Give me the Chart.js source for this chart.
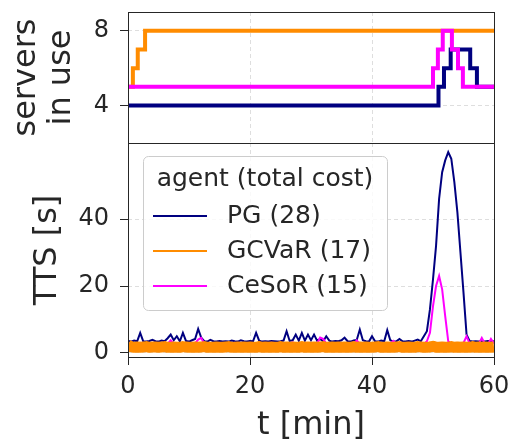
<!DOCTYPE html>
<html>
<head>
<meta charset="utf-8">
<script src="https://cdn.jsdelivr.net/npm/chart.js@4.4.1/dist/chart.umd.min.js"></script>
<style>
body { margin: 0; background: #fff; }
#wrap { position: relative; width: 513px; height: 442px; }
canvas { position: absolute; left: 0; }
#top { top: 0; }
#bottom { top: 133px; }
</style>
</head>
<body>
<div id="wrap">
<canvas id="top" width="513" height="150"></canvas>
<canvas id="bottom" width="513" height="309"></canvas>
</div>
<script>
var legendTitle = 'agent (total cost)';
var agents = ['PG (28)', 'GCVaR (17)', 'CeSoR (15)'];
var colors = ['#000080', '#ff8c00', '#ff00ff'];

// servers in use: time of each change [min] and the count from then on
var pgStepT = [0, 50.9, 51.8, 52.9, 56.1, 57.2, 60];
var pgStepN = [4, 5, 6, 7, 6, 5, 5];
var gcvarStepT = [0, 0.8, 1.6, 2.8, 60];
var gcvarStepN = [5, 6, 7, 8, 8];
var cesorStepT = [0, 50, 50.8, 51.6, 53.1, 54.1, 54.9, 60];
var cesorStepN = [5, 6, 7, 8, 7, 6, 5, 5];

// TTS [s], one value every half minute
var tMin = [
  0, 0.5, 1, 1.5, 2, 2.5, 3, 3.5, 4, 4.5,
  5, 5.5, 6, 6.5, 7, 7.5, 8, 8.5, 9, 9.5,
  10, 10.5, 11, 11.5, 12, 12.5, 13, 13.5, 14, 14.5,
  15, 15.5, 16, 16.5, 17, 17.5, 18, 18.5, 19, 19.5,
  20, 20.5, 21, 21.5, 22, 22.5, 23, 23.5, 24, 24.5,
  25, 25.5, 26, 26.5, 27, 27.5, 28, 28.5, 29, 29.5,
  30, 30.5, 31, 31.5, 32, 32.5, 33, 33.5, 34, 34.5,
  35, 35.5, 36, 36.5, 37, 37.5, 38, 38.5, 39, 39.5,
  40, 40.5, 41, 41.5, 42, 42.5, 43, 43.5, 44, 44.5,
  45, 45.5, 46, 46.5, 47, 47.5, 48, 48.5, 49, 49.5,
  50, 50.5, 51, 51.5, 52, 52.5, 53, 53.5, 54, 54.5,
  55, 55.5, 56, 56.5, 57, 57.5, 58, 58.5, 59, 59.5,
  60
];
var pgTTS = [
  3.6, 3.4, 3.7, 3.5, 6.0, 3.5, 3.4, 3.6, 3.9, 3.5,
  3.4, 3.7, 3.5, 4.4, 5.5, 3.8, 5.0, 3.5, 6.0, 3.6,
  3.4, 3.8, 4.2, 7.2, 4.6, 3.5, 3.4, 3.9, 3.5, 3.4,
  3.6, 3.4, 3.5, 3.4, 3.7, 3.5, 3.4, 3.8, 3.5, 3.4,
  3.6, 3.5, 6.0, 3.7, 3.4, 3.5, 3.4, 3.6, 3.5, 3.4,
  3.5, 3.7, 6.5, 3.6, 3.8, 5.5, 3.7, 6.0, 3.7, 5.5,
  3.8, 5.5, 3.7, 4.2, 3.5, 5.0, 3.7, 3.4, 3.6, 3.5,
  3.8, 4.6, 3.5, 3.4, 3.7, 3.9, 7.0, 3.8, 3.5, 3.4,
  5.0, 3.5, 3.4, 3.7, 3.5, 6.8, 3.8, 3.4, 3.5, 4.2,
  3.5, 3.4, 3.6, 3.4, 3.7, 4.0, 3.5, 5.0, 6.5, 13,
  22, 32, 46, 54, 57.5, 60, 58, 51, 42, 30,
  18, 5.5, 3.6, 3.4, 3.5, 3.4, 3.5, 3.4, 3.6, 3.4,
  3.5
];
var gcvarTTS = [
  2.3, 1.9, 1.7, 1.8, 1.7, 1.8, 1.9, 1.7, 1.8, 1.8,
  1.7, 1.8, 1.9, 1.7, 1.7, 1.8, 1.7, 1.7, 1.9, 1.8,
  1.7, 1.7, 1.8, 1.7, 1.8, 1.9, 1.7, 1.7, 1.7, 1.8,
  1.7, 1.7, 1.8, 1.9, 1.7, 1.7, 1.8, 1.7, 1.8, 1.7,
  1.8, 1.7, 1.7, 1.9, 1.7, 1.8, 1.7, 1.8, 1.7, 1.7,
  1.9, 1.7, 1.8, 1.7, 1.8, 1.7, 1.7, 1.9, 1.7, 1.8,
  1.7, 1.8, 1.7, 1.8, 1.9, 1.7, 1.7, 1.8, 1.7, 1.8,
  1.7, 1.8, 1.7, 1.7, 1.9, 1.7, 1.8, 1.7, 1.8, 1.7,
  1.7, 1.8, 1.9, 1.7, 1.7, 1.8, 1.7, 1.7, 1.8, 1.9,
  1.7, 1.7, 1.8, 1.7, 1.7, 1.9, 1.8, 1.7, 1.7, 1.8,
  2.0, 1.7, 1.7, 1.8, 1.7, 1.7, 1.9, 1.7, 1.8, 1.7,
  1.8, 1.7, 1.7, 1.9, 1.7, 1.8, 1.7, 1.8, 1.7, 1.7,
  1.8
];
var cesorTTS = [
  2.8, 2.7, 2.9, 2.6, 3.0, 2.7, 2.8, 2.6, 2.9, 2.7,
  2.8, 2.6, 2.9, 2.7, 3.8, 2.7, 2.8, 2.6, 3.0, 2.7,
  2.8, 2.6, 2.9, 4.0, 4.5, 2.8, 2.6, 2.9, 2.7, 2.8,
  2.6, 2.9, 2.7, 2.8, 2.6, 3.0, 2.7, 2.8, 2.6, 2.9,
  2.7, 2.8, 2.6, 2.9, 2.7, 2.8, 2.6, 3.0, 2.7, 2.8,
  2.6, 2.9, 2.7, 2.8, 3.2, 2.7, 2.9, 2.6, 2.8, 2.7,
  2.9, 2.6, 2.8, 4.6, 4.2, 2.8, 2.6, 2.9, 2.7, 2.8,
  2.6, 2.9, 2.7, 2.8, 2.6, 3.8, 2.7, 2.9, 2.6, 2.8,
  2.7, 2.9, 2.6, 2.8, 3.0, 2.7, 2.8, 3.6, 2.7, 2.9,
  2.6, 2.8, 2.7, 2.9, 2.6, 2.8, 3.0, 2.7, 3.5, 6.0,
  14, 20, 23, 19, 11, 3.5, 2.8, 2.6, 2.9, 2.7,
  3.0, 5.0, 2.8, 2.6, 2.9, 2.7, 4.5, 2.8, 2.6, 4.2,
  2.8
];

var tTicks = [0, 20, 40, 60];
var serverTicks = [4, 8];
var ttsTicks = [0, 20, 40];

Chart.defaults.font.family = '"DejaVu Sans"';
Chart.defaults.color = '#262626';

var gridColor = '#dedede';
var tickColor = '#262626';

function pts(xs, ys) {
  return xs.map(function (x, i) { return {x: x, y: ys[i]}; });
}
function fixTicks(values) {
  return function (scale) {
    scale.ticks = values.map(function (v) { return {value: v}; });
  };
}
// fixed axis size, no extra room for labels hanging over the ends
function fixSize(w, h) {
  return function (s) {
    if (w !== null) s.width = w;
    if (h !== null) s.height = h;
    s.paddingTop = 0;
    s.paddingBottom = 0;
    s.paddingLeft = 0;
    s.paddingRight = 0;
  };
}

// matplotlib style box round the plot area
var frame = {
  id: 'frame',
  afterDatasetsDraw: function (chart) {
    var a = chart.chartArea, ctx = chart.ctx;
    ctx.save();
    ctx.strokeStyle = '#262626';
    ctx.lineWidth = 1;
    ctx.strokeRect(Math.round(a.left) + 0.5, Math.round(a.top) + 0.5,
      Math.round(a.right - a.left), Math.round(a.bottom - a.top));
    ctx.restore();
  }
};

var legendBox = {
  id: 'legendBox',
  afterDraw: function (chart) {
    var ctx = chart.ctx;
    ctx.save();
    ctx.beginPath();
    ctx.roundRect(143.5, 23.5, 244, 154, 5);
    ctx.fillStyle = 'rgba(255,255,255,0.8)';
    ctx.fill();
    ctx.strokeStyle = '#cccccc';
    ctx.lineWidth = 1;
    ctx.stroke();
    ctx.font = '25px "DejaVu Sans"';
    ctx.fillStyle = '#262626';
    ctx.textBaseline = 'middle';
    ctx.textAlign = 'center';
    ctx.fillText(legendTitle, 265, 46);
    ctx.textAlign = 'left';
    agents.forEach(function (name, i) {
      var y = 83 + 35 * i;
      ctx.strokeStyle = colors[i];
      ctx.lineWidth = 2;
      ctx.beginPath();
      ctx.moveTo(153, y);
      ctx.lineTo(207, y);
      ctx.stroke();
      ctx.fillText(name, 227, y);
    });
    ctx.restore();
  }
};

var topChart = new Chart(document.getElementById('top'), {
  type: 'line',
  data: {
    datasets: [
      {data: pts(pgStepT, pgStepN), borderColor: colors[0], stepped: 'before', order: 2},
      {data: pts(gcvarStepT, gcvarStepN), borderColor: colors[1], stepped: 'before', order: 1},
      {data: pts(cesorStepT, cesorStepN), borderColor: colors[2], stepped: 'before', order: 0}
    ]
  },
  options: {
    responsive: false,
    animation: false,
    devicePixelRatio: 1,
    layout: {padding: {top: 12, right: 19, bottom: 7, left: 0}},
    elements: {point: {radius: 0}, line: {borderWidth: 4, tension: 0}},
    plugins: {legend: {display: false}, tooltip: {enabled: false}},
    scales: {
      x: {
        type: 'linear', min: 0, max: 60,
        afterBuildTicks: fixTicks(tTicks),
        afterFit: fixSize(null, 0),
        ticks: {display: false},
        grid: {color: gridColor, drawTicks: false},
        border: {display: false, dash: [4, 3]}
      },
      y: {
        type: 'linear', min: 2, max: 9,
        afterBuildTicks: fixTicks(serverTicks),
        afterFit: fixSize(128, null),
        ticks: {font: {size: 24}, padding: 11},
        grid: {color: gridColor, tickColor: tickColor, tickLength: 8, tickBorderDash: []},
        border: {display: false, dash: [4, 3]},
        title: {display: true, text: ['servers', 'in use'], font: {size: 32, lineHeight: 1.1},
          padding: {top: 9, bottom: 0}}
      }
    }
  },
  plugins: [frame]
});

var bottomChart = new Chart(document.getElementById('bottom'), {
  type: 'line',
  data: {
    datasets: [
      {data: pts(tMin, pgTTS), borderColor: colors[0], borderWidth: 2, order: 2},
      {data: pts(tMin, gcvarTTS), borderColor: colors[1], borderWidth: 11,
        borderJoinStyle: 'round', order: 0},
      {data: pts(tMin, cesorTTS), borderColor: colors[2], borderWidth: 2, order: 1}
    ]
  },
  options: {
    responsive: false,
    animation: false,
    devicePixelRatio: 1,
    layout: {padding: {top: 10, right: 19, bottom: 0, left: 0}},
    elements: {point: {radius: 0}, line: {tension: 0}},
    plugins: {legend: {display: false}, tooltip: {enabled: false}},
    scales: {
      x: {
        type: 'linear', min: 0, max: 60,
        afterBuildTicks: fixTicks(tTicks),
        afterFit: fixSize(null, 85),
        ticks: {font: {size: 24}, padding: 7, maxRotation: 0},
        grid: {color: gridColor, tickColor: tickColor, tickLength: 8, tickBorderDash: []},
        border: {display: false, dash: [4, 3]},
        title: {display: true, text: 't [min]', font: {size: 32, lineHeight: 1.0},
          padding: {top: 0, bottom: 0}}
      },
      y: {
        type: 'linear', min: -1.2, max: 62.7,
        afterBuildTicks: fixTicks(ttsTicks),
        afterFit: fixSize(128, null),
        ticks: {font: {size: 24}, padding: 11},
        grid: {color: gridColor, tickColor: tickColor, tickLength: 8, tickBorderDash: []},
        border: {display: false, dash: [4, 3]},
        title: {display: true, text: 'TTS [s]', font: {size: 32, lineHeight: 1.1},
          padding: {top: 30, bottom: 0}}
      }
    }
  },
  plugins: [frame, legendBox]
});
</script>
</body>
</html>
